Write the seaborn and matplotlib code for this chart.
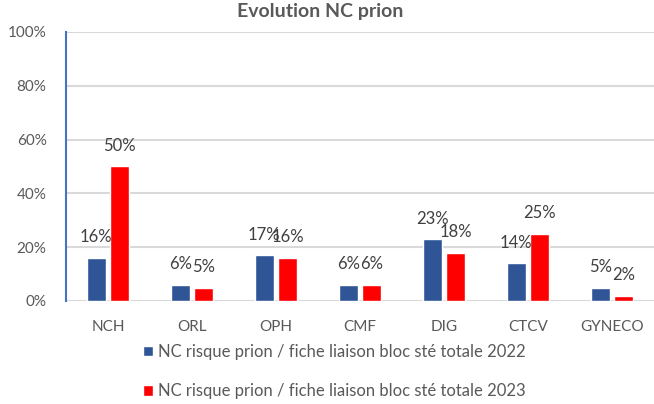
import pandas as pd
import matplotlib
matplotlib.use('Agg')
import matplotlib.pyplot as plt
import seaborn as sns

# ---- data ----
services = ['NCH', 'ORL', 'OPH', 'CMF', 'DIG', 'CTCV', 'GYNECO']
nc_2022 = [16, 6, 17, 6, 23, 14, 5]
nc_2023 = [50, 5, 16, 6, 18, 25, 2]
series_names = ['NC risque prion / fiche liaison bloc sté totale 2022',
                'NC risque prion / fiche liaison bloc sté totale 2023']
colors = ['#2F5597', '#FF0000']

df = pd.DataFrame({
    'Service': services * 2,
    'Valeur': nc_2022 + nc_2023,
    'Serie': [series_names[0]] * len(services) + [series_names[1]] * len(services),
})

sns.set_style('white')
plt.rcParams['font.family'] = ['Lato', 'DejaVu Sans']
txt_color = '#595959'

fig = plt.figure(figsize=(6.54, 4.04), dpi=100)
ax = fig.add_axes([0.101, 0.255, 0.899, 0.666])

sns.barplot(data=df, x='Service', y='Valeur', hue='Serie', palette=colors,
            width=0.56, gap=0.19, ax=ax, saturation=1)

for cont in ax.containers:
    ax.bar_label(cont, labels=[f'{int(v)}%' for v in cont.datavalues],
                 padding=9, fontsize=12, color='#404040')

ax.set_ylim(0, 100)
ax.set_xlim(-0.5, 6.5)
ax.set_yticks(range(0, 101, 20))
ax.set_yticklabels([f'{v}%' for v in range(0, 101, 20)], fontsize=11, color=txt_color)
ax.tick_params(axis='x', length=0, pad=14, labelsize=11, labelcolor=txt_color)
ax.tick_params(axis='y', length=0, pad=14)
ax.yaxis.grid(True, color='#D9D9D9', linewidth=1.5)
ax.set_axisbelow(True)
ax.set_xlabel('')
ax.set_ylabel('')
for s in ['top', 'right', 'bottom']:
    ax.spines[s].set_visible(False)
ax.spines['left'].set_color('#4472C4')
ax.spines['left'].set_linewidth(1.5)

fig.suptitle('Evolution NC prion', x=0.49, y=0.972, va='center',
             fontsize=14, fontweight='bold', color=txt_color)

ax.legend(loc='upper left', bbox_to_anchor=(0.12, -0.135), frameon=False,
          fontsize=12, labelcolor=txt_color, handlelength=0.6, handleheight=0.6,
          handletextpad=0.3, labelspacing=1.4, borderaxespad=0)

plt.savefig('out.png', dpi=100)
